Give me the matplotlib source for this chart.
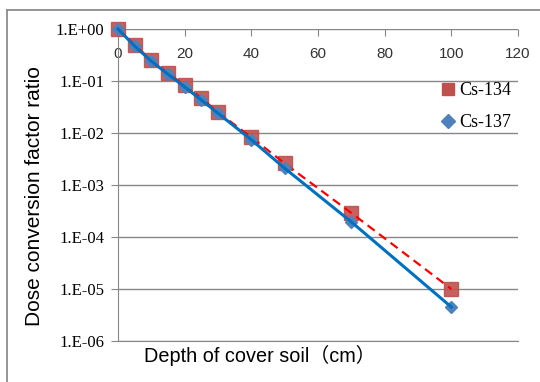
import numpy as np
import matplotlib
matplotlib.use('Agg')
import matplotlib.pyplot as plt
from matplotlib.lines import Line2D
from matplotlib.ticker import FuncFormatter, FixedLocator

depth = [0, 5, 10, 15, 20, 25, 30, 40, 50, 70, 100]
cs134 = [1.0, 0.49, 0.25, 0.14, 0.083, 0.047, 0.025, 0.0083, 0.0026, 0.00029, 1.0e-5]
cs137 = [1.0, 0.47, 0.24, 0.135, 0.077, 0.043, 0.024, 0.0074, 0.0021, 0.000195, 4.5e-6]
x_ticks = [0, 20, 40, 60, 80, 100, 120]
y_ticks = [1e0, 1e-1, 1e-2, 1e-3, 1e-4, 1e-5, 1e-6]

grid_col = '#878787'
sq_col = '#c0504d'
dia_col = '#4f81bd'

fig = plt.figure(figsize=(5.4, 3.82), dpi=100)
ax = fig.add_axes([118/540, 1-341/382, 400/540, 312/382])

# chart border (left and top edges)
fig.add_artist(Line2D([7/540, 7/540], [0, 1-10/382], color='#8c8c8c', lw=1.3))
fig.add_artist(Line2D([7/540, 1], [1-10/382, 1-10/382], color='#8c8c8c', lw=1.3))

ax.plot(depth, cs134, ls='none', marker='s', ms=9.5, color=sq_col, alpha=0.9, zorder=3, clip_on=False)
ax.plot(depth, cs134, color='#ff0000', lw=1.6, dashes=(4, 2.5), zorder=4, clip_on=False)
ax.plot(depth, cs137, ls='none', marker='D', ms=6.5, color=dia_col, zorder=5, clip_on=False)
ax.plot(depth, cs137, color='#0070c0', lw=2.2, zorder=6, clip_on=False)

ax.set_yscale('log')
ax.set_xlim(0, 120)
ax.set_ylim(1e-6, 1)
ax.yaxis.set_major_locator(FixedLocator(y_ticks))
ax.yaxis.set_minor_locator(FixedLocator([]))
ax.yaxis.set_major_formatter(FuncFormatter(lambda v, p: '1.E%+03d' % round(np.log10(v))))
ax.xaxis.set_major_locator(FixedLocator(x_ticks))

for s in ['top', 'right']:
    ax.spines[s].set_visible(False)
ax.spines['left'].set_color(grid_col)
ax.spines['bottom'].set_color(grid_col)
ax.grid(axis='y', color=grid_col, lw=1)
ax.set_axisbelow(True)

ax.xaxis.tick_top()
ax.tick_params(axis='x', direction='in', length=5, color=grid_col, pad=-23,
               labelsize=11, labelcolor='#333333')
ax.tick_params(axis='y', direction='out', length=5, color=grid_col, pad=5,
               labelsize=12)
for lab in ax.get_xticklabels():
    lab.set_family(['Liberation Sans'])
for lab in ax.get_yticklabels():
    lab.set_family(['Liberation Serif'])

handles = [Line2D([], [], ls='none', marker='s', ms=9, color=sq_col),
           Line2D([], [], ls='none', marker='D', ms=7, color=dia_col)]
ax.legend(handles, ['Cs-134', 'Cs-137'], loc='upper left', bbox_to_anchor=(0.8075, 0.83),
          frameon=False, borderpad=0, borderaxespad=0, handlelength=0.8, handletextpad=0.2,
          labelspacing=0.85, prop={'family': 'Liberation Serif', 'size': 13})

fig.text(35/540, 1-196/382, 'Dose conversion factor ratio', rotation=90, ha='center', va='center',
         fontsize=15, family=['Liberation Sans'])
fig.text(260/540, 1-355/382, 'Depth of cover soil（cm）', ha='center', va='center',
         fontsize=14.3, family=['Liberation Sans', 'Noto Sans CJK JP'])

fig.savefig('out.png', dpi=100)
